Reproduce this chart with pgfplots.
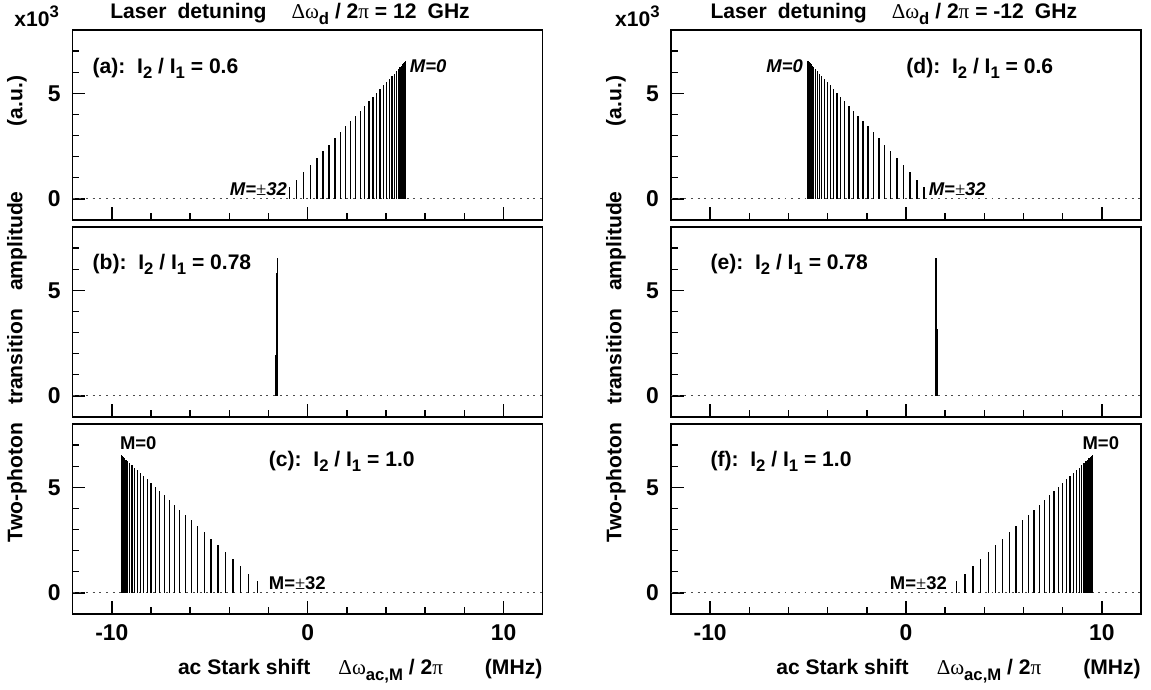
\documentclass[border=0pt]{standalone}
\usepackage{fontspec}
\setmainfont{Liberation Sans}
\newfontfamily\sym{Liberation Serif}
\usepackage{pgfplots}
\usepackage{pgfplotstable}
\pgfplotsset{compat=1.18}

\newcommand\lab{\bfseries\fontsize{12}{14}\selectfont}
\newcommand\tlab{\bfseries\fontsize{13}{15}\selectfont}
\newcommand\msz{\bfseries\fontsize{10.5}{12}\selectfont}
\newcommand\sub[1]{\raisebox{-0.45ex}{\fontsize{9.5}{9.5}\selectfont #1}}
\newcommand\gr[1]{{\sym\mdseries #1}}

% M = 0..32 ; x positions for panels a-f, amplitude in units of 10^3
\pgfplotstableread{
M xa xb xc xd xe xf h
0 5.000 -1.550 -9.520 -5.000 1.530 9.520 6.520
1 4.994 -1.550 -9.513 -4.994 1.530 9.513 6.514
2 4.977 -1.550 -9.493 -4.977 1.530 9.493 6.497
3 4.948 -1.551 -9.459 -4.948 1.531 9.459 6.467
4 4.908 -1.551 -9.412 -4.908 1.531 9.412 6.427
5 4.855 -1.552 -9.351 -4.855 1.532 9.351 6.374
6 4.792 -1.553 -9.276 -4.792 1.533 9.276 6.310
7 4.717 -1.554 -9.188 -4.717 1.534 9.188 6.234
8 4.630 -1.555 -9.086 -4.630 1.535 9.086 6.146
9 4.532 -1.556 -8.971 -4.532 1.536 8.971 6.047
10 4.422 -1.558 -8.842 -4.422 1.538 8.842 5.936
11 4.300 -1.560 -8.700 -4.300 1.540 8.700 5.813
12 4.168 -1.561 -8.544 -4.168 1.541 8.544 5.679
13 4.023 -1.563 -8.375 -4.023 1.543 8.375 5.533
14 3.867 -1.565 -8.192 -3.867 1.545 8.192 5.375
15 3.699 -1.568 -7.995 -3.699 1.548 7.995 5.206
16 3.520 -1.570 -7.785 -3.520 1.550 7.785 5.025
17 3.329 -1.573 -7.561 -3.329 1.553 7.561 4.832
18 3.127 -1.575 -7.324 -3.127 1.555 7.324 4.628
19 2.913 -1.578 -7.073 -2.913 1.558 7.073 4.412
20 2.688 -1.581 -6.809 -2.688 1.561 6.809 4.184
21 2.450 -1.585 -6.531 -2.450 1.565 6.531 3.945
22 2.202 -1.588 -6.240 -2.202 1.568 6.240 3.694
23 1.942 -1.591 -5.935 -1.942 1.571 5.935 3.431
24 1.670 -1.595 -5.616 -1.670 1.575 5.616 3.156
25 1.387 -1.599 -5.284 -1.387 1.579 5.284 2.870
26 1.092 -1.603 -4.939 -1.092 1.583 4.939 2.572
27 0.785 -1.607 -4.579 -0.785 1.587 4.579 2.263
28 0.467 -1.611 -4.207 -0.467 1.591 4.207 1.942
29 0.138 -1.616 -3.820 -0.138 1.596 3.820 1.609
30 -0.203 -1.620 -3.420 0.203 1.600 3.420 1.264
31 -0.556 -1.625 -3.007 0.556 1.605 3.007 0.908
32 -0.920 -1.630 -2.580 0.920 1.610 2.580 0.540
}\Mdata

\pgfplotsset{
  panel/.style={
    scale only axis, width=9.40cm, height=3.80cm, anchor=south west,
    xmin=-12, xmax=12, ymin=-1, ymax=8, clip=false,
    xtick={-10,0,10}, minor xtick={-8,-6,-4,-2,2,4,6,8},
    ytick={0,5}, minor ytick={1,2,3,4,6,7},
    xtick pos=left, ytick pos=left, tick align=inside,
    major tick length=0.25cm, minor tick length=0.13cm,
    axis line style={line width=0.8pt},
    every tick/.style={black, line width=0.8pt},
    /pgf/number format/assume math mode=true,
    tick label style={font=\tlab},
    yticklabel shift=0.12cm, xticklabel shift=0.08cm,
  },
  top/.style={xticklabels={}},
  zero/.style={black!70, line width=0.6pt, dash pattern=on 1.1pt off 2.7pt},
  stem/.style={ycomb, black, line width=0.75pt},
}
\tikzset{lbl/.style={inner sep=0pt, anchor=west, font=\lab}}

\newcommand\ylab{Two-photon\hspace{0.36cm}transition\hspace{0.36cm}amplitude\hspace{1.3cm}(a.u.)}
\newcommand\xlab{ac Stark shift\hspace{0.56cm}\gr{Δω}\sub{ac,M} / 2\gr{π}\hspace{0.84cm}(MHz)}
\newcommand\xten{x10\raisebox{0.85ex}{\fontsize{9.5}{9.5}\selectfont 3}}

\begin{document}
\begin{tikzpicture}
\useasboundingbox (0,0) rectangle (23.02,13.8);

% ---------- left column
\begin{axis}[panel, top, at={(1.454cm,9.40cm)}]
\addplot[zero] coordinates {(-12,0) (12,0)};
\addplot[stem] table[x=xa, y=h] {\Mdata};
\node[lbl] at (axis cs:-11.0,6.2) {(a):\ \ I\sub{2} / I\sub{1} = 0.6};
\node[inner sep=0pt, anchor=west, font=\msz\itshape] at (axis cs:5.2,6.3) {M=0};
\node[inner sep=0pt, anchor=east, font=\msz\itshape] at (axis cs:-1.05,0.45) {M=\gr{±}32};
\node[inner sep=0pt, anchor=base west, font=\lab] at (axis cs:-10.1,8) [yshift=0.22cm]
  {Laser\hspace{0.22cm}detuning\hspace{0.5cm}\gr{Δω}\sub{d} / 2\gr{π} = 12\hspace{0.22cm}GHz};
\node[inner sep=0pt, anchor=base east, font=\lab] at (rel axis cs:0,1) [xshift=-0.27cm, yshift=0.06cm] {\xten};
\end{axis}

\begin{axis}[panel, top, at={(1.454cm,5.46cm)}]
\addplot[zero] coordinates {(-12,0) (12,0)};
\addplot[stem] table[x=xb, y=h] {\Mdata};
\node[lbl] at (axis cs:-11.0,6.25) {(b):\ \ I\sub{2} / I\sub{1} = 0.78};
\end{axis}

\begin{axis}[panel, at={(1.454cm,1.52cm)}]
\addplot[zero] coordinates {(-12,0) (12,0)};
\addplot[stem] table[x=xc, y=h] {\Mdata};
\node[lbl] at (axis cs:-2.0,6.25) {(c):\ \ I\sub{2} / I\sub{1} = 1.0};
\node[inner sep=0pt, anchor=west, font=\msz] at (axis cs:-9.6,7.1) {M=0};
\node[inner sep=0pt, anchor=west, font=\msz] at (axis cs:-2.0,0.47) {M=\gr{±}32};
\node[inner sep=0pt, anchor=base east, font=\lab] at (rel axis cs:1,0) [yshift=-1.22cm] {\xlab};
\end{axis}

\node[rotate=90, inner sep=0pt, font=\lab] at (0.34,7.62) {\ylab};

% ---------- right column
\begin{axis}[panel, top, at={(13.42cm,9.40cm)}]
\addplot[zero] coordinates {(-12,0) (12,0)};
\addplot[stem] table[x=xd, y=h] {\Mdata};
\node[lbl] at (axis cs:0.0,6.2) {(d):\ \ I\sub{2} / I\sub{1} = 0.6};
\node[inner sep=0pt, anchor=east, font=\msz\itshape] at (axis cs:-5.25,6.3) {M=0};
\node[inner sep=0pt, anchor=west, font=\msz\itshape] at (axis cs:1.15,0.45) {M=\gr{±}32};
\node[inner sep=0pt, anchor=base west, font=\lab] at (axis cs:-10.0,8) [yshift=0.22cm]
  {Laser\hspace{0.22cm}detuning\hspace{0.5cm}\gr{Δω}\sub{d} / 2\gr{π} = -12\hspace{0.22cm}GHz};
\node[inner sep=0pt, anchor=base east, font=\lab] at (rel axis cs:0,1) [xshift=-0.22cm, yshift=0.06cm] {\xten};
\end{axis}

\begin{axis}[panel, top, at={(13.42cm,5.46cm)}]
\addplot[zero] coordinates {(-12,0) (12,0)};
\addplot[stem] table[x=xe, y=h] {\Mdata};
\node[lbl] at (axis cs:-10.0,6.25) {(e):\ \ I\sub{2} / I\sub{1} = 0.78};
\end{axis}

\begin{axis}[panel, at={(13.42cm,1.52cm)}]
\addplot[zero] coordinates {(-12,0) (12,0)};
\addplot[stem] table[x=xf, y=h] {\Mdata};
\node[lbl] at (axis cs:-10.0,6.25) {(f):\ \ I\sub{2} / I\sub{1} = 1.0};
\node[inner sep=0pt, anchor=west, font=\msz] at (axis cs:9.0,7.1) {M=0};
\node[inner sep=0pt, anchor=east, font=\msz] at (axis cs:2.1,0.47) {M=\gr{±}32};
\node[inner sep=0pt, anchor=base east, font=\lab] at (rel axis cs:1,0) [yshift=-1.22cm] {\xlab};
\end{axis}

\node[rotate=90, inner sep=0pt, font=\lab] at (12.32,7.62) {\ylab};
\end{tikzpicture}
\end{document}
